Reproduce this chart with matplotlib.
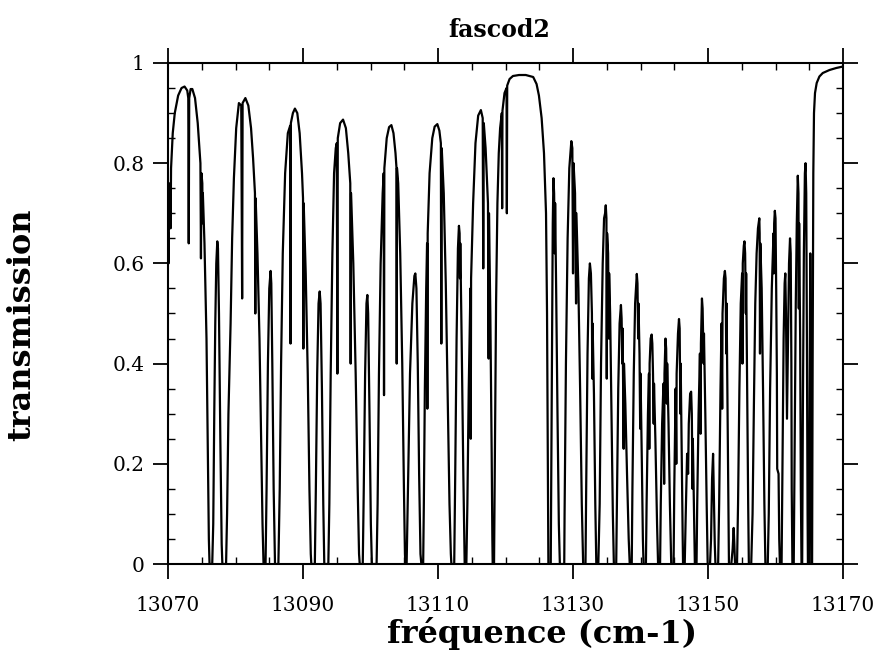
import matplotlib
matplotlib.use('Agg')
import matplotlib.pyplot as plt
from matplotlib.ticker import FixedLocator, MultipleLocator

plt.rcParams['font.family'] = 'DejaVu Serif'

# trace: (wavenumber cm-1, transmission)
p_branch = [
    (13070.00, 0.66), (13070.08, 0.60), (13070.15, 0.71), (13070.30, 0.76), (13070.38, 0.67),
    (13070.45, 0.79), (13070.70, 0.86), (13071.00, 0.90), (13071.50, 0.935), (13072.00, 0.950),
    (13072.45, 0.953), (13072.85, 0.945), (13073.00, 0.93), (13073.07, 0.64), (13073.14, 0.93),
    (13073.35, 0.948), (13073.60, 0.948), (13074.00, 0.93), (13074.40, 0.88), (13074.80, 0.80),
    (13074.88, 0.61), (13074.95, 0.78), (13075.08, 0.76), (13075.12, 0.68), (13075.16, 0.74),
    (13075.40, 0.64), (13075.70, 0.45), (13075.90, 0.22), (13076.05, 0.05), (13076.15, 0.0),
    (13076.55, 0.0),
    (13076.70, 0.08), (13076.85, 0.30), (13077.00, 0.48), (13077.15, 0.60), (13077.30, 0.644),
    (13077.40, 0.63), (13077.55, 0.50), (13077.75, 0.25), (13077.95, 0.04), (13078.05, 0.0),
    (13078.60, 0.0),
    (13078.75, 0.10), (13078.95, 0.30), (13079.27, 0.48), (13079.50, 0.65), (13079.76, 0.77),
    (13080.10, 0.87), (13080.50, 0.920), (13080.85, 0.915), (13080.98, 0.53), (13081.05, 0.92),
    (13081.46, 0.930), (13081.90, 0.915), (13082.30, 0.87), (13082.60, 0.81), (13082.88, 0.74),
    (13082.93, 0.50), (13082.98, 0.73), (13083.25, 0.62), (13083.55, 0.45), (13083.80, 0.25),
    (13084.00, 0.08), (13084.15, 0.0), (13084.45, 0.0),
    (13084.60, 0.15), (13084.80, 0.40), (13085.00, 0.55), (13085.20, 0.585), (13085.30, 0.56),
    (13085.45, 0.40), (13085.65, 0.15), (13085.85, 0.0), (13086.35, 0.0),
    (13086.55, 0.15), (13086.75, 0.40), (13087.00, 0.62), (13087.35, 0.78), (13087.75, 0.86),
    (13088.10, 0.875), (13088.15, 0.44), (13088.20, 0.88), (13088.50, 0.90), (13088.80, 0.909),
    (13089.15, 0.90), (13089.50, 0.86), (13089.85, 0.78), (13090.00, 0.73), (13090.05, 0.43),
    (13090.10, 0.72), (13090.40, 0.58), (13090.70, 0.38), (13090.95, 0.15), (13091.15, 0.02),
    (13091.23, 0.0), (13091.75, 0.0),
    (13091.90, 0.15), (13092.10, 0.38), (13092.30, 0.52), (13092.47, 0.544), (13092.60, 0.52),
    (13092.80, 0.35), (13093.00, 0.12), (13093.15, 0.0), (13093.75, 0.0),
    (13093.90, 0.12), (13094.10, 0.38), (13094.35, 0.62), (13094.60, 0.78), (13094.85, 0.83),
    (13095.00, 0.84), (13095.09, 0.38), (13095.15, 0.85), (13095.50, 0.88), (13095.93, 0.887),
    (13096.35, 0.87), (13096.70, 0.82), (13097.00, 0.76), (13097.06, 0.40), (13097.12, 0.74),
    (13097.45, 0.60), (13097.80, 0.38), (13098.10, 0.15), (13098.30, 0.02), (13098.40, 0.0),
    (13098.85, 0.0),
    (13099.00, 0.15), (13099.20, 0.38), (13099.40, 0.52), (13099.53, 0.537), (13099.65, 0.50),
    (13099.85, 0.30), (13100.05, 0.08), (13100.20, 0.0), (13100.90, 0.0),
    (13101.05, 0.12), (13101.25, 0.38), (13101.50, 0.60), (13101.80, 0.74), (13101.95, 0.78),
    (13102.00, 0.337), (13102.05, 0.79), (13102.40, 0.85), (13102.75, 0.872), (13103.09, 0.876),
    (13103.40, 0.86), (13103.70, 0.82), (13103.85, 0.79), (13103.88, 0.40), (13103.92, 0.79),
    (13104.10, 0.76), (13104.40, 0.62), (13104.70, 0.40), (13104.95, 0.15), (13105.10, 0.02),
    (13105.16, 0.0), (13105.35, 0.0),
    (13105.55, 0.15), (13105.85, 0.38), (13106.20, 0.52), (13106.50, 0.575), (13106.64, 0.58),
    (13106.80, 0.55), (13107.00, 0.40), (13107.20, 0.18), (13107.40, 0.02), (13107.53, 0.0),
    (13107.80, 0.0),
    (13107.90, 0.12), (13108.05, 0.35), (13108.25, 0.55), (13108.38, 0.64), (13108.42, 0.31),
    (13108.47, 0.66), (13108.75, 0.78), (13109.15, 0.85), (13109.50, 0.873), (13109.90, 0.878),
    (13110.20, 0.865), (13110.42, 0.84), (13110.49, 0.44), (13110.55, 0.83), (13110.85, 0.74),
    (13111.15, 0.56), (13111.45, 0.32), (13111.70, 0.12), (13111.90, 0.02), (13111.98, 0.0),
    (13112.40, 0.0),
    (13112.55, 0.18), (13112.75, 0.45), (13112.95, 0.63), (13113.10, 0.675), (13113.20, 0.66),
    (13113.25, 0.57), (13113.30, 0.64), (13113.50, 0.45), (13113.75, 0.18), (13113.95, 0.0),
    (13114.20, 0.0),
    (13114.35, 0.12), (13114.55, 0.35), (13114.80, 0.55), (13114.85, 0.25), (13114.90, 0.57),
    (13115.20, 0.72), (13115.55, 0.84), (13115.95, 0.895), (13116.35, 0.906), (13116.62, 0.89),
    (13116.70, 0.59), (13116.78, 0.88), (13117.05, 0.83), (13117.40, 0.72), (13117.50, 0.41),
    (13117.55, 0.70), (13117.75, 0.50), (13117.95, 0.22), (13118.05, 0.05), (13118.10, 0.0),
]

band_gap = [
    (13118.30, 0.0), (13118.45, 0.25), (13118.60, 0.52), (13118.80, 0.72), (13119.00, 0.82),
    (13119.20, 0.87), (13119.45, 0.90), (13119.50, 0.71), (13119.55, 0.905), (13119.85, 0.94),
    (13120.15, 0.95), (13120.20, 0.70), (13120.25, 0.955), (13120.60, 0.968), (13121.10, 0.974),
    (13122.00, 0.976), (13123.00, 0.976), (13124.10, 0.972), (13124.60, 0.958), (13124.95, 0.935),
    (13125.35, 0.89), (13125.70, 0.82), (13126.00, 0.70), (13126.15, 0.50), (13126.25, 0.25),
    (13126.35, 0.0),
]

r_branch = [
    (13126.70, 0.0), (13126.85, 0.35), (13127.00, 0.68), (13127.10, 0.77), (13127.20, 0.74),
    (13127.30, 0.62), (13127.35, 0.72), (13127.50, 0.55), (13127.70, 0.30), (13127.90, 0.08),
    (13128.05, 0.0), (13128.70, 0.0),
    (13128.75, 0.10), (13128.95, 0.40), (13129.20, 0.65), (13129.45, 0.79), (13129.75, 0.844),
    (13129.90, 0.83), (13130.00, 0.58), (13130.08, 0.80), (13130.30, 0.74), (13130.45, 0.52),
    (13130.50, 0.70), (13130.80, 0.55), (13131.05, 0.35), (13131.30, 0.12), (13131.50, 0.0),
    (13131.85, 0.0),
    (13131.95, 0.15), (13132.15, 0.42), (13132.35, 0.57), (13132.50, 0.60), (13132.65, 0.58),
    (13132.80, 0.50), (13132.85, 0.37), (13132.90, 0.48), (13133.10, 0.34), (13133.30, 0.12),
    (13133.45, 0.0), (13133.75, 0.0),
    (13133.95, 0.12), (13134.15, 0.40), (13134.40, 0.60), (13134.60, 0.69), (13134.75, 0.70),
    (13134.85, 0.716), (13134.95, 0.69), (13135.00, 0.37), (13135.05, 0.66), (13135.20, 0.62),
    (13135.30, 0.45), (13135.35, 0.58), (13135.50, 0.50), (13135.70, 0.30), (13135.90, 0.10),
    (13136.05, 0.0), (13136.40, 0.0),
    (13136.50, 0.12), (13136.70, 0.35), (13136.90, 0.48), (13137.10, 0.517), (13137.20, 0.49),
    (13137.30, 0.40), (13137.35, 0.47), (13137.50, 0.23), (13137.55, 0.40), (13137.75, 0.32),
    (13138.00, 0.18), (13138.25, 0.05), (13138.40, 0.0), (13138.70, 0.0),
    (13138.80, 0.15), (13139.00, 0.38), (13139.20, 0.52), (13139.45, 0.579), (13139.55, 0.56),
    (13139.65, 0.45), (13139.70, 0.52), (13139.85, 0.42), (13139.95, 0.27), (13140.00, 0.38),
    (13140.20, 0.20), (13140.35, 0.05), (13140.45, 0.0), (13140.80, 0.0),
    (13140.90, 0.12), (13141.10, 0.30), (13141.25, 0.38), (13141.30, 0.23), (13141.35, 0.40),
    (13141.50, 0.45), (13141.65, 0.458), (13141.75, 0.44), (13141.85, 0.38), (13141.95, 0.28),
    (13142.00, 0.36), (13142.20, 0.25), (13142.45, 0.08), (13142.60, 0.0), (13142.90, 0.0),
    (13143.00, 0.12), (13143.20, 0.28), (13143.40, 0.36), (13143.50, 0.16), (13143.55, 0.38),
    (13143.70, 0.45), (13143.80, 0.43), (13143.90, 0.32), (13143.95, 0.40), (13144.15, 0.28),
    (13144.35, 0.12), (13144.55, 0.0), (13144.90, 0.0),
    (13145.00, 0.15), (13145.20, 0.35), (13145.30, 0.20), (13145.35, 0.38), (13145.55, 0.46),
    (13145.70, 0.489), (13145.80, 0.47), (13145.90, 0.30), (13145.95, 0.40), (13146.10, 0.22),
    (13146.25, 0.05), (13146.30, 0.0), (13146.55, 0.0),
    (13146.70, 0.10), (13146.90, 0.22), (13147.05, 0.18), (13147.15, 0.28), (13147.35, 0.34),
    (13147.50, 0.344), (13147.60, 0.30), (13147.70, 0.15), (13147.75, 0.25), (13147.95, 0.08),
    (13148.05, 0.0), (13148.30, 0.0),
    (13148.40, 0.12), (13148.60, 0.30), (13148.80, 0.42), (13148.90, 0.26), (13148.95, 0.44),
    (13149.10, 0.53), (13149.20, 0.51), (13149.35, 0.40), (13149.40, 0.46), (13149.60, 0.30),
    (13149.80, 0.12), (13149.95, 0.0), (13150.30, 0.0),
    (13150.45, 0.05), (13150.60, 0.17), (13150.75, 0.22), (13150.85, 0.15), (13151.00, 0.04),
    (13151.10, 0.0), (13151.50, 0.0),
    (13151.65, 0.12), (13151.85, 0.35), (13152.00, 0.48), (13152.10, 0.31), (13152.15, 0.50),
    (13152.35, 0.57), (13152.50, 0.585), (13152.60, 0.57), (13152.70, 0.42), (13152.75, 0.52),
    (13152.90, 0.30), (13153.05, 0.08), (13153.10, 0.0), (13153.45, 0.0),
    (13153.65, 0.03), (13153.80, 0.072), (13153.90, 0.04), (13154.00, 0.0), (13154.30, 0.0),
    (13154.45, 0.12), (13154.65, 0.35), (13154.85, 0.52), (13155.05, 0.58), (13155.10, 0.40),
    (13155.15, 0.60), (13155.30, 0.635), (13155.40, 0.644), (13155.50, 0.62), (13155.60, 0.50),
    (13155.65, 0.58), (13155.80, 0.35), (13155.95, 0.12), (13156.05, 0.0), (13156.40, 0.0),
    (13156.60, 0.10), (13156.80, 0.32), (13157.00, 0.52), (13157.20, 0.62), (13157.40, 0.67),
    (13157.60, 0.69), (13157.65, 0.66), (13157.70, 0.42), (13157.75, 0.64), (13157.95, 0.55),
    (13158.15, 0.35), (13158.35, 0.12), (13158.50, 0.0), (13158.85, 0.0),
    (13159.00, 0.10), (13159.20, 0.35), (13159.45, 0.55), (13159.70, 0.66), (13159.75, 0.58),
    (13159.80, 0.68), (13159.90, 0.705), (13160.00, 0.69), (13160.10, 0.55), (13160.20, 0.38),
    (13160.25, 0.19), (13160.45, 0.18), (13160.55, 0.05), (13160.65, 0.0), (13160.90, 0.0),
    (13161.05, 0.22), (13161.20, 0.45), (13161.35, 0.56), (13161.45, 0.58), (13161.55, 0.50),
    (13161.70, 0.29), (13161.85, 0.45), (13162.00, 0.60), (13162.15, 0.65), (13162.25, 0.62),
    (13162.35, 0.40), (13162.40, 0.15), (13162.50, 0.0), (13162.70, 0.0),
    (13162.85, 0.25), (13163.00, 0.52), (13163.15, 0.68), (13163.30, 0.775), (13163.40, 0.74),
    (13163.45, 0.51), (13163.50, 0.68), (13163.65, 0.45), (13163.75, 0.15), (13163.85, 0.0),
    (13163.95, 0.0),
    (13164.05, 0.30), (13164.20, 0.62), (13164.35, 0.78), (13164.45, 0.80), (13164.55, 0.74),
    (13164.65, 0.45), (13164.75, 0.10), (13164.80, 0.0), (13164.95, 0.0),
    (13165.05, 0.35), (13165.15, 0.62), (13165.25, 0.30), (13165.30, 0.0), (13165.42, 0.0),
]

band_head = [
    (13165.50, 0.40), (13165.60, 0.78), (13165.70, 0.90), (13165.85, 0.94), (13166.10, 0.96),
    (13166.50, 0.973), (13167.00, 0.980), (13168.00, 0.986), (13169.00, 0.990), (13170.00, 0.993),
]

x_ticks = [13070, 13090, 13110, 13130, 13150, 13170]
y_ticks = [0, 0.2, 0.4, 0.6, 0.8, 1]
y_tick_labels = ['0', '0.2', '0.4', '0.6', '0.8', '1']

trace = p_branch + band_gap + r_branch + band_head
freq = [p[0] for p in trace]
trans = [p[1] for p in trace]

fig = plt.figure(figsize=(8.82, 6.63), dpi=100)
ax = fig.add_axes([0.1905, 0.1493, 0.7653, 0.7557])

ax.plot(freq, trans, color='black', linewidth=1.6)

ax.set_xlim(13070, 13170)
ax.set_ylim(0, 1)
ax.xaxis.set_major_locator(FixedLocator(x_ticks))
ax.xaxis.set_minor_locator(MultipleLocator(5))
ax.set_xticklabels([str(t) for t in x_ticks])
ax.yaxis.set_major_locator(FixedLocator(y_ticks))
ax.yaxis.set_minor_locator(MultipleLocator(0.05))
ax.set_yticklabels(y_tick_labels)

for s in ax.spines.values():
    s.set_linewidth(1.5)

ax.tick_params(which='major', direction='out', length=11, width=1.3,
               top=True, right=True, labelsize=14.5)
ax.tick_params(axis='x', which='major', pad=12)
ax.tick_params(axis='y', which='major', pad=6)
ax.tick_params(which='minor', direction='in', length=5, width=1.0,
               top=True, right=True)

fig.text(0.566, 1 - 30 / 663, 'fascod2', ha='center', va='center',
         fontsize=17, fontweight='bold')
fig.text(0.614, 1 - 633 / 663, 'fréquence (cm-1)', ha='center', va='center',
         fontsize=23, fontweight='bold')
fig.text(22 / 882, 1 - 325 / 663, 'transmission', ha='center', va='center',
         rotation=90, fontsize=23, fontweight='bold')

plt.savefig('out.png', dpi=100)
plt.close()
